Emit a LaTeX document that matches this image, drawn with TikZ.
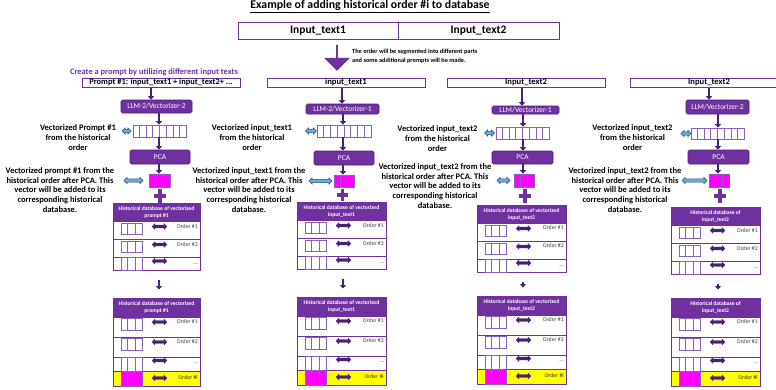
\documentclass[tikz,border=0pt]{standalone}
\usepackage{fontspec}
\setmainfont{Carlito}
\usetikzlibrary{arrows.meta,shapes.arrows,fit,calc}
\definecolor{pur}{HTML}{7030A0}
\definecolor{dpur}{HTML}{4B1E78}
\definecolor{lpur}{HTML}{8B5FBF}
\definecolor{lblue}{HTML}{5AB4D4}
\definecolor{dblue}{HTML}{3A3F8F}
\definecolor{mag}{HTML}{FF00FF}
\definecolor{yel}{HTML}{FFFF00}
\definecolor{ordgray}{HTML}{404040}
\tikzset{
 inbox/.style={draw=pur, line width=1pt, inner sep=0pt, fill=white},
 llmbox/.style={draw=dpur, fill=pur, rounded corners=1.5pt, line width=0.6pt, inner sep=0pt, text=white, font=\fontsize{7.5}{8}\selectfont},
 vbox/.style={draw=lpur, line width=0.8pt, inner sep=0pt},
 sarr/.style={draw=dpur, line width=2.2pt, -{Triangle[length=3.5pt,width=6pt]}},
 plusst/.style={draw=pur, line width=3.6pt},
 sidearr/.style={double arrow, double arrow head extend=1.6pt, inner xsep=0pt, inner ysep=1.3pt, fill=lblue, draw=dblue, line width=0.5pt},
 rowarr/.style={double arrow, double arrow head extend=1.5pt, inner xsep=0pt, inner ysep=1.3pt, minimum height=15pt, fill=dpur, draw=dpur, line width=0.3pt},
 dbhead/.style={fill=pur, draw=pur, line width=1pt, inner sep=0pt, text=white, font=\bfseries\fontsize{5.6}{7}\selectfont, align=center},
 rowbox/.style={draw=pur, line width=1pt, inner sep=0pt},
 sidetxt/.style={font=\bfseries\fontsize{8.5}{9.6}\selectfont, align=center, inner sep=0pt},
 ordtxt/.style={font=\fontsize{5.8}{6}\selectfont, text=ordgray, anchor=east, inner sep=0pt},
}
% box node from corners: style, name, x1, y1, x2, y2, text
\newcommand\bx[7]{%
  \pgfmathsetmacro\bxw{#5-#3}\pgfmathsetmacro\bxh{#6-#4}%
  \node[#1, minimum width=\bxw pt, minimum height=\bxh pt] (#2) at ({(#3+#5)/2},{(#4+#6)/2}) {#7};%
}
\newcommand\vecn[7]{%
  \node[vbox, fill=#7, fit={(#2,#3) (#4,#5)}] (#1) {};
  \pgfmathtruncatemacro\ncellm{#6-1}%
  \foreach \k in {1,...,\ncellm}{\draw[draw=lpur, line width=0.8pt] ($(#1.south west)!\k/#6!(#1.south east)$) -- ($(#1.north west)!\k/#6!(#1.north east)$);}%
}
\newcommand\rowN[6]{%
  \node[rowbox, fill=white, fit={(#2,#4) (#3,{#4+#5})}] (#1) {};
  \vecn{#1v}{#2+8}{#4+1.5}{#2+29}{#4+13}{3}{white}
  \node[rowarr] (#1a) at ({#2+46.5},{#4+5}) {};
  \node[ordtxt] (#1t) at ({#3-2},{#4+4.5}) {#6};
}
\newcommand\rowS[5]{%
  \node[rowbox, fill=white, fit={(#2,#4) (#3,{#4+#5})}] (#1) {};
  \vecn{#1v}{#2+8}{#4}{#2+29}{#4+#5}{3}{white}
  \node[rowarr] (#1a) at ({#2+46.5},{#4+3.5}) {};
  \node[ordtxt] (#1t) at ({#3-2},{#4+6.5}) {...};
}
\newcommand\rowY[5]{%
  \node[rowbox, fill=yel, fit={(#2,#4) (#3,{#4+#5})}] (#1) {};
  \vecn{#1v}{#2+8}{#4}{#2+29}{#4+#5}{3}{mag}
  \node[rowarr] (#1a) at ({#2+46.5},{#4+7}) {};
  \node[ordtxt, text=black!80] (#1t) at ({#3-2},{#4+6.5}) {Order \#i};
}
\newcommand\dbone[5]{%
  \bx{dbhead}{#1h}{#2}{#4}{#3}{#4+18.5}{#5}
  \rowN{#1r1}{#2}{#3}{#4+18.5}{18}{Order \#1}
  \rowN{#1r2}{#2}{#3}{#4+36.5}{18}{Order \#2}
  \rowS{#1r3}{#2}{#3}{#4+54.5}{13}
}
\newcommand\dbtwo[5]{%
  \bx{dbhead}{#1h}{#2}{#4}{#3}{#4+19}{#5}
  \rowN{#1r1}{#2}{#3}{#4+19}{20}{Order \#1}
  \rowN{#1r2}{#2}{#3}{#4+39}{20}{Order \#2}
  \rowS{#1r3}{#2}{#3}{#4+59}{14}
  \rowY{#1r4}{#2}{#3}{#4+73}{15}
}
\begin{document}
\begin{tikzpicture}[x=1pt,y=-1pt]
\useasboundingbox[fill=white] (0,0) rectangle (776,389);

% title and inputs
\node[font=\bfseries\fontsize{11.8}{13}\selectfont] (title) at (370,6.5) {\underline{Example of adding historical order \#i to database}};
\bx{inbox, font=\bfseries\fontsize{11.5}{13}\selectfont}{in1}{238}{22}{398}{39}{Input\_text1}
\bx{inbox, font=\bfseries\fontsize{11.5}{13}\selectfont}{in2}{398}{22}{559}{39}{Input\_text2}
\node[single arrow, shape border rotate=270, fill=pur, draw=dpur, line width=0.6pt, minimum height=25pt, minimum width=24pt, single arrow head extend=6pt, inner sep=0pt] (bigarr) at (337,57.5) {};
\node[anchor=west, align=left, inner sep=0pt, font=\bfseries\fontsize{6.3}{9}\selectfont] (segtxt) at (352,56.5) {The order will be segmented into different parts\\and some additional prompts will be made.};
\node[font=\bfseries\fontsize{8.4}{9}\selectfont, text=pur, inner sep=0pt] (create) at (154,72.5) {Create a prompt by utilizing different input texts};

% column input boxes
\bx{inbox, font=\bfseries\fontsize{8.4}{9}\selectfont}{inA}{82}{78}{240}{87}{Prompt \#1: input\_text1 + input\_text2+ ...}
\bx{inbox, font=\bfseries\fontsize{8.6}{9}\selectfont}{inB}{267}{78}{425}{87}{input\_text1}
\bx{inbox, font=\bfseries\fontsize{8.6}{9}\selectfont}{inC}{447}{78}{605}{87}{Input\_text2}
\bx{inbox, font=\bfseries\fontsize{8.6}{9}\selectfont}{inD}{630}{78}{788}{87}{Input\_text2}

% axis coordinates
\coordinate (tA) at (151,0); \coordinate (cA) at (159,0);
\coordinate (tB) at (342,0); \coordinate (cB) at (343,0);
\coordinate (tC) at (522,0); \coordinate (cC) at (523,0);
\coordinate (tD) at (709,0); \coordinate (cD) at (718,0);

% LLM boxes
\bx{llmbox}{llmA}{121}{100}{192}{113}{LLM-2/Vectorizer-2}
\bx{llmbox}{llmB}{306}{104}{379}{114}{LLM-2/Vectorizer-1}
\bx{llmbox}{llmC}{492}{106}{559}{114}{LLM/Vectorizer-1}
\bx{llmbox}{llmD}{686}{100}{749}{114}{LLM/Vectorizer-2}

% long vectors
\vecn{vecA}{133}{125}{186}{137}{8}{white}
\vecn{vecB}{317}{125}{371}{137}{8}{white}
\vecn{vecC}{496}{127}{549}{139}{8}{white}
\vecn{vecD}{691}{128}{744}{139}{8}{white}

% PCA
\bx{llmbox}{pcaA}{130}{150}{190}{164}{PCA}
\bx{llmbox}{pcaB}{314}{151}{374}{165}{PCA}
\bx{llmbox}{pcaC}{492}{151}{553}{164}{PCA}
\bx{llmbox}{pcaD}{688}{150}{749}{164}{PCA}

% reduced vectors
\vecn{magA}{149}{174}{170}{187}{3}{mag}
\vecn{magB}{334}{175}{354}{187}{3}{mag}
\vecn{magC}{514}{174}{534}{187}{3}{mag}
\vecn{magD}{709}{174}{729}{187}{3}{mag}

% vertical arrows
\foreach \c in {A,B,C,D}{
  \draw[sarr] (in\c.south -| t\c) -- (llm\c.north -| t\c);
  \draw[sarr] (llm\c.south -| c\c) -- (vec\c.north -| c\c);
  \draw[sarr] (vec\c.south -| c\c) -- (pca\c.north -| c\c);
  \draw[sarr] (pca\c.south -| c\c) -- (mag\c.north -| c\c);
}

% plus signs
\draw[plusst] (154,196) -- (166,196) (160,189) -- (160,203);
\draw[plusst] (337,195) -- (348,195) (342.5,189) -- (342.5,201);
\draw[plusst] (519,196) -- (531,196) (525,189) -- (525,203);
\draw[plusst] (714,196) -- (726,196) (720,189) -- (720,203);

% side double arrows
\node[sidearr, minimum height=9pt] (saA) at (126.5,131) {};
\node[sidearr, minimum height=19pt] (sbA) at (133.5,180.5) {};
\node[sidearr, minimum height=11pt] (saB) at (311,131) {};
\node[sidearr, minimum height=23pt] (sbB) at (320.5,181) {};
\node[sidearr, minimum height=10pt] (saC) at (489.5,133) {};
\node[sidearr, minimum height=13pt] (sbC) at (503.5,180.5) {};
\node[sidearr, minimum height=10pt] (saD) at (686,133.5) {};
\node[sidearr, minimum height=25pt] (sbD) at (694.5,180.5) {};

% side texts
\node[sidetxt] (txA1) at (78,137.5) {Vectorized Prompt \#1\\from the historical\\order};
\node[sidetxt] (txA2) at (60,190) {Vectorized prompt \#1 from the\\historical order after PCA. This\\vector will be added to its\\corresponding historical\\database.};
\node[sidetxt] (txB1) at (252,137.5) {Vectorized input\_text1\\from the historical\\order};
\node[sidetxt] (txB2) at (249,190) {Vectorized input\_text1 from the\\historical order after PCA. This\\vector will be added to its\\corresponding historical\\database.};
\node[sidetxt] (txC1) at (437.5,138.5) {Vectorized input\_text2\\from the historical\\order};
\node[sidetxt] (txC2) at (435,186) {Vectorized input\_text2 from the\\historical order after PCA. This\\vector will be added to its\\corresponding historical\\database.};
\node[sidetxt] (txD1) at (632.5,137.5) {Vectorized input\_text2\\from the historical\\order};
\node[sidetxt] (txD2) at (625,190) {Vectorized input\_text2 from the\\historical order after PCA. This\\vector will be added to its\\corresponding historical\\database.};

% databases
\dbone{dA}{113}{200}{203}{Historical database of vectorized\\prompt \#1}
\dbtwo{eA}{113}{200}{298}{Historical database of vectorized\\prompt \#1}
\dbone{dB}{297}{386}{202}{Historical database of vectorized\\input\_text1}
\dbtwo{eB}{297}{386}{297}{Historical database of vectorized\\input\_text1}
\dbone{dC}{477}{566}{205}{Historical database of vectorized\\input\_text2}
\dbtwo{eC}{477}{566}{296}{Historical database of vectorized\\input\_text2}
\dbone{dD}{671}{760}{207}{Historical database of\\input\_text2}
\dbtwo{eD}{671}{760}{298}{Historical database of\\input\_text2}

\foreach \c in {A,B,C,D}{
  \draw[sarr] ($(d\c r3.south -| c\c)+(0,9)$) -- ($(e\c h.north -| c\c)+(0,-8)$);
}
\end{tikzpicture}
\end{document}
